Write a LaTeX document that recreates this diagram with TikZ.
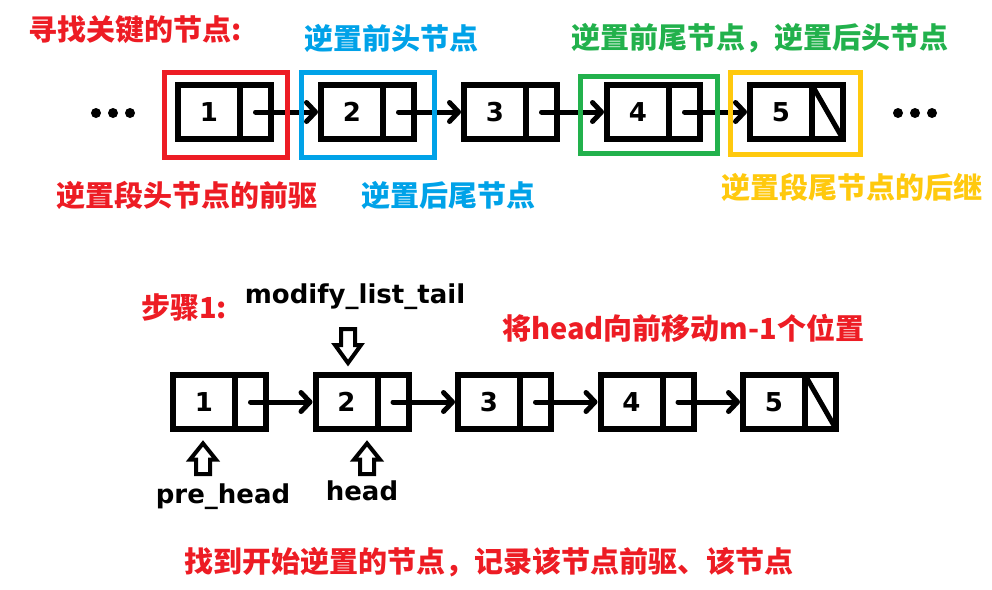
\documentclass[tikz,border=0pt]{standalone}
\usepackage{fontspec}
\setmainfont{DejaVu Sans}
\newfontfamily\cjk{Noto Sans CJK SC}
\usetikzlibrary{positioning,arrows.meta}

\definecolor{tagred}{RGB}{237,28,36}
\definecolor{tagblue}{RGB}{0,162,232}
\definecolor{taggreen}{RGB}{34,177,76}
\definecolor{tagyellow}{RGB}{255,201,14}

\tikzset{
  datacell/.style={draw, line width=6pt, minimum width=62pt, minimum height=54pt,
    inner sep=0pt, outer sep=0pt, font=\bfseries\fontsize{26}{26}\selectfont},
  ptrcell/.style={draw, line width=6pt, minimum width=31pt, minimum height=54pt,
    inner sep=0pt, outer sep=0pt},
  link/.style={line width=5pt, line cap=round, shorten >=3pt,
    -{Straight Barb[length=9pt,width=19pt,round]}},
  frame/.style={line width=5pt},
  note/.style={font=\cjk\bfseries\fontsize{29}{29}\selectfont},
  label/.style={font=\bfseries\fontsize{26}{26}\selectfont},
  blockarrow/.pic={
    \draw[line width=4pt, fill=white, line join=miter]
      (-7,0) -- (7,0) -- (7,16) -- (13,16) -- (0,34) -- (-13,16) -- (-7,16) -- cycle;
  },
}

\begin{document}
\begin{tikzpicture}[x=1pt,y=-1pt]
  \useasboundingbox (0,0) rectangle (992,589);

  %% top row: the list with the key nodes framed
  \node[note, text=tagred] (findkey) at (135,30) {寻找关键的节点:};
  \node[note, text=tagblue] (revhead) at (391,38) {逆置前头节点};
  \node[note, text=taggreen] (revtail) at (760,38) {逆置前尾节点，逆置后头节点};

  \foreach \i/\x in {1/209,2/352,3/495,4/638,5/781} {
    \node[datacell] (td\i) at (\x,112) {\i};
    \node[ptrcell, right=0pt of td\i] (tp\i) {};
  }
  \foreach \i [count=\j from 2] in {1,...,4}
    \draw[link] (tp\i.center) -- (td\j.west);
  \draw[line width=5pt] (tp5.north west) -- (tp5.south east);

  \foreach \x in {96,113,130,898,915,932}
    \fill (\x,113) circle(5);

  \draw[frame, tagred]    (164.5,72.5) rectangle (287.5,157.5);
  \draw[frame, tagblue]   (301.5,72.5) rectangle (434.5,157.5);
  \draw[frame, taggreen]  (580.5,76.5) rectangle (717.5,153.5);
  \draw[frame, tagyellow] (730.5,72.5) rectangle (860.5,154.5);

  \node[note, text=tagred] (prevnode) at (187,195) {逆置段头节点的前驱};
  \node[note, text=tagblue] (newtail) at (448,195) {逆置后尾节点};
  \node[note, text=tagyellow] (nextnode) at (852,187) {逆置段尾节点的后继};

  %% bottom row: step 1
  \node[note, text=tagred] (step) at (184,307) {步骤1:};
  \node[label] (modtail) at (355,297) {modify\_list\_tail};
  \node[note, text=tagred] (movehead) at (683,328) {将head向前移动m-1个位置};

  \foreach \i/\x in {1/204,2/346.5,3/489,4/631.5,5/774} {
    \node[datacell] (bd\i) at (\x,402) {\i};
    \node[ptrcell, right=0pt of bd\i] (bp\i) {};
  }
  \foreach \i [count=\j from 2] in {1,...,4}
    \draw[link] (bp\i.center) -- (bd\j.west);
  \draw[line width=5pt] (bp5.north west) -- (bp5.south east);

  \pic at (348,329) {blockarrow};
  \pic[yscale=-0.9] at (203,474) {blockarrow};
  \pic[yscale=-0.9] at (367,474) {blockarrow};

  \node[label] (prehead) at (223,497) {pre\_head};
  \node[label] (head) at (362,491) {head};
  \node[note, text=tagred] (findstart) at (489,562) {找到开始逆置的节点，记录该节点前驱、该节点};
\end{tikzpicture}
\end{document}
